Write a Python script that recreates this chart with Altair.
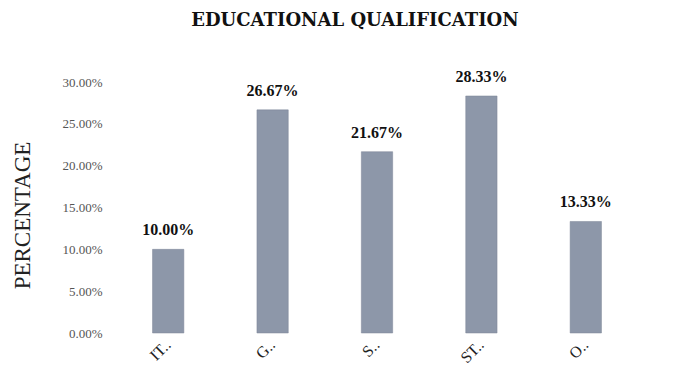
import altair as alt
import pandas as pd

categories = ["IT..", "G..", "S..", "ST..", "O.."]
values = [10.00, 26.67, 21.67, 28.33, 13.33]
y_ticks = [0, 5, 10, 15, 20, 25, 30]

df = pd.DataFrame({"cat": categories, "val": values})
df["label"] = [f"{v:.2f}%" for v in values]

base = alt.Chart(df)

x = alt.X("cat:N", sort=categories, title=None,
          scale=alt.Scale(paddingInner=0.7, paddingOuter=0.35),
          axis=alt.Axis(labelAngle=-45, domain=False, ticks=False, labelPadding=9,
                        labelFont="Liberation Serif", labelFontSize=16, labelColor="#222",
                        labelAlign="right", labelBaseline="middle"))
y = alt.Y("val:Q", title="PERCENTAGE",
          scale=alt.Scale(domain=[0, 30], nice=False),
          axis=alt.Axis(values=y_ticks, grid=False, domain=False, ticks=False,
                        labelExpr="format(datum.value, '.2f') + '%'",
                        labelFont="Liberation Serif", labelFontSize=13, labelColor="#555",
                        labelPadding=14,
                        titleFont="Liberation Serif", titleFontSize=23, titleFontWeight="normal",
                        titleColor="#222", titleX=-94, titleY=133, titleAlign="center",
                        titleBaseline="middle"))

bars = base.mark_bar(color="#8d97a9", stroke="#7d8596", strokeWidth=0.5).encode(x=x, y=y)
text = base.mark_text(dy=-19, font="Liberation Serif", fontSize=16, fontWeight="bold",
                      color="#111").encode(x=alt.X("cat:N", sort=categories), y="val:Q", text="label:N")

chart = (bars + text).properties(
    width=522, height=251,
    title=alt.TitleParams("EDUCATIONAL QUALIFICATION", font="DejaVu Serif", fontSize=18,
                          fontWeight="bold", color="#111", offset=39, anchor="middle", dx=-22),
    autosize=alt.AutoSizeParams(type="none"),
    padding={"left": 116, "top": 82, "right": 53, "bottom": 48},
).configure_view(stroke=None)

chart.save("out.html", embed_options={"renderer": "svg", "actions": False})
